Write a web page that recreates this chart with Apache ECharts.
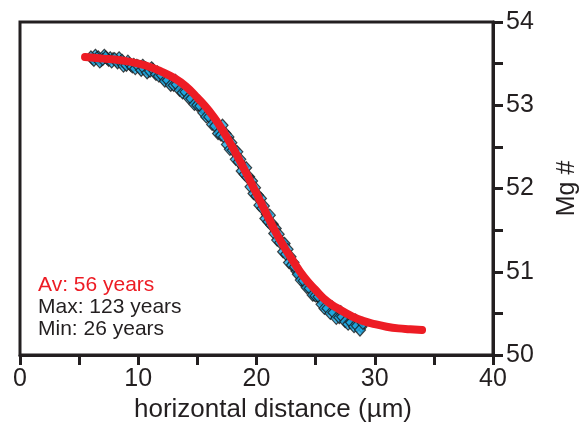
<!DOCTYPE html>
<html>
<head>
<meta charset="utf-8">
<script src="https://cdn.jsdelivr.net/npm/echarts@6/dist/echarts.min.js"></script>
<style>html,body{margin:0;padding:0;background:#fff}#c{width:580px;height:425px}</style>
</head>
<body>
<div id="c"></div>
<script>
// Measured profile (blue diamonds), two interleaved traverses
const measuredX = [6.0,6.25,6.5,6.75,7.0,7.25,7.5,7.75,8.0,8.25,8.5,8.75,9.0,9.25,9.5,9.75,10.0,10.25,10.5,10.75,11.0,11.25,11.5,11.75,12.0,12.25,12.5,12.75,13.0,13.25,13.5,13.75,14.0,14.25,14.5,14.75,15.0,15.25,15.5,15.75,16.0,16.25,16.5,16.75,17.0,17.25,17.5,17.75,18.0,18.25,18.5,18.75,19.0,19.25,19.5,19.75,20.0,20.25,20.5,20.75,21.0,21.25,21.5,21.75,22.0,22.25,22.5,22.75,23.0,23.25,23.5,23.75,24.0,24.25,24.5,24.75,25.0,25.25,25.5,25.75,26.0,26.25,26.5,26.75,27.0,27.25,27.5,27.75,28.0,28.25,28.5,28.75,29.0];
const measuredY = [53.58,53.54,53.57,53.52,53.55,53.58,53.54,53.52,53.56,53.51,53.52,53.47,53.48,53.50,53.46,53.44,53.47,53.42,53.44,53.39,53.41,53.43,53.37,53.35,53.36,53.29,53.30,53.24,53.24,53.25,53.18,53.15,53.16,53.09,53.08,53.01,53.00,52.99,52.91,52.86,52.86,52.77,52.75,52.66,52.64,52.62,52.53,52.47,52.46,52.35,52.32,52.21,52.17,52.13,52.02,51.94,51.91,51.80,51.76,51.64,51.60,51.56,51.46,51.38,51.35,51.24,51.21,51.11,51.08,51.06,50.97,50.90,50.89,50.81,50.80,50.72,50.71,50.70,50.61,50.56,50.56,50.50,50.51,50.44,50.45,50.46,50.40,50.37,50.39,50.34,50.35,50.30,50.38];
const measuredX2 = [6.125,6.375,6.625,6.875,7.125,7.375,7.625,7.875,8.125,8.375,8.625,8.875,9.125,9.375,9.625,9.875,10.125,10.375,10.625,10.875,11.125,11.375,11.625,11.875,12.125,12.375,12.625,12.875,13.125,13.375,13.625,13.875,14.125,14.375,14.625,14.875,15.125,15.375,15.625,15.875,16.125,16.375,16.625,16.875,17.125,17.375,17.625,17.875,18.125,18.375,18.625,18.875,19.125,19.375,19.625,19.875,20.125,20.375,20.625,20.875,21.125,21.375,21.625,21.875,22.125,22.375,22.625,22.875,23.125,23.375,23.625,23.875,24.125,24.375,24.625,24.875,25.125,25.375,25.625,25.875,26.125,26.375,26.625,26.875,27.125,27.375,27.625,27.875,28.125,28.375,28.625,28.875];
const measuredY2 = [53.56,53.60,53.58,53.54,53.60,53.56,53.57,53.56,53.54,53.57,53.54,53.50,53.53,53.48,53.49,53.48,53.45,53.48,53.45,53.41,53.45,53.40,53.40,53.38,53.32,53.34,53.31,53.26,53.30,53.23,53.23,53.19,53.14,53.15,53.09,53.03,53.05,52.97,52.95,52.90,52.84,52.83,52.76,52.68,52.76,52.66,52.62,52.55,52.47,52.44,52.35,52.26,52.25,52.14,52.09,52.01,51.92,51.88,51.79,51.69,51.68,51.57,51.52,51.45,51.36,51.34,51.27,51.18,51.11,51.01,50.98,50.92,50.85,50.85,50.79,50.72,50.74,50.67,50.65,50.61,50.56,50.58,50.53,50.48,50.52,50.46,50.46,50.43,50.39,50.42,50.38,50.34];
// Model fit (red line)
const modelX = [5.5,6,7,8,9,10,11,12,13,14,15,16,17,18,19,20,21,22,23,24,25,26,27,28,29,30,31,32,33,34];
const modelY = [53.58,53.574,53.56,53.55,53.53,53.50,53.46,53.40,53.33,53.23,53.09,52.93,52.73,52.49,52.22,51.94,51.65,51.38,51.15,50.94,50.78,50.64,50.55,50.47,50.41,50.37,50.34,50.32,50.31,50.30];
// Axis ticks
const xTickLabels = [0,10,20,30,40];
const yTickLabels = [50,51,52,53,54];
const annotations = ['Av: 56 years','Max: 123 years','Min: 26 years'];

const ink = '#231f20';
const red = '#ed1c24';
const font = '"Liberation Sans", Arial, Helvetica, sans-serif';
const diamondStyle = {color:'#1ea7e1',borderColor:'#1a1a1a',borderWidth:1.2};

const chart = echarts.init(document.getElementById('c'), null, {renderer:'canvas'});
chart.setOption({
  animation:false,
  grid:{left:20,right:87,top:22,bottom:70,containLabel:false,outerBoundsMode:'none',
    show:true,borderColor:ink,borderWidth:3,backgroundColor:'transparent'},
  xAxis:{type:'value',min:0,max:40,interval:5,
    name:'horizontal distance (µm)',nameLocation:'middle',nameGap:37,
    nameTextStyle:{fontFamily:font,fontSize:26,color:ink,padding:[0,0,0,33]},
    axisLine:{show:true,onZero:false,lineStyle:{color:ink,width:3}},
    axisTick:{show:true,length:10,lineStyle:{color:ink,width:3}},
    axisLabel:{margin:12,fontFamily:font,fontSize:25,color:ink,
      formatter:v=>xTickLabels.indexOf(v)>=0?String(v):''},
    splitLine:{show:false}},
  yAxis:{type:'value',position:'right',min:50,max:54,interval:0.5,
    name:'Mg #',nameLocation:'middle',nameGap:62,nameRotate:90,
    nameTextStyle:{fontFamily:font,fontSize:25,color:ink},
    axisLine:{show:true,onZero:false,lineStyle:{color:ink,width:3}},
    axisTick:{show:true,length:10,lineStyle:{color:ink,width:3}},
    axisLabel:{margin:13,fontFamily:font,fontSize:25,color:ink,
      formatter:v=>yTickLabels.indexOf(v)>=0?String(v):''},
    splitLine:{show:false}},
  series:[
    {type:'scatter',symbol:'diamond',symbolSize:[11,12],
     data:measuredX2.map((x,i)=>[x,measuredY2[i]]),itemStyle:diamondStyle,z:2},
    {type:'scatter',symbol:'diamond',symbolSize:[11,12],
     data:measuredX.map((x,i)=>[x,measuredY[i]]),itemStyle:diamondStyle,z:2},
    {type:'line',data:modelX.map((x,i)=>[x,modelY[i]]),showSymbol:false,symbol:'none',
     smooth:true,lineStyle:{color:red,width:8,cap:'round',join:'round'},z:3}
  ],
  graphic:annotations.map((t,i)=>({type:'text',left:38,top:275+i*22,
    style:{text:t,fill:i===0?red:ink,font:'21px '+font}}))
});
</script>
</body>
</html>
